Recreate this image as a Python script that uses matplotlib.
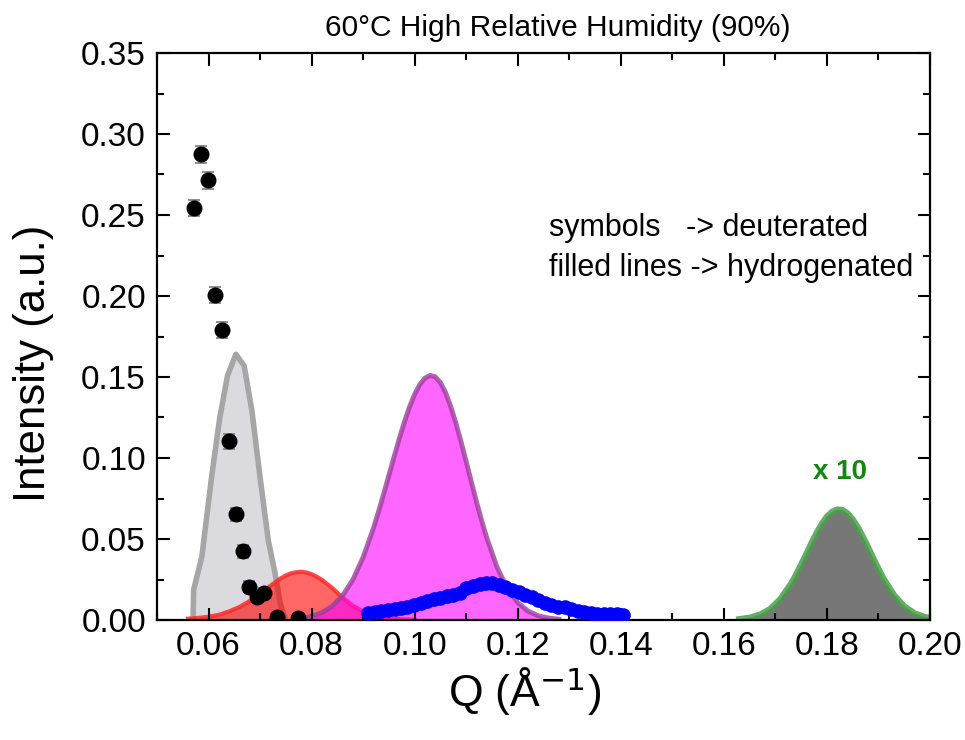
import matplotlib
matplotlib.use("Agg")
import matplotlib.pyplot as plt
from matplotlib.ticker import MultipleLocator

plt.rcParams['font.family'] = ['Liberation Sans', 'DejaVu Sans']
plt.rcParams['mathtext.fontset'] = 'custom'
plt.rcParams['mathtext.rm'] = 'Liberation Sans'
plt.rcParams['mathtext.it'] = 'Liberation Sans:italic'
plt.rcParams['mathtext.bf'] = 'Liberation Sans:bold'

# ---------------- data ----------------
title = "60°C High Relative Humidity (90%)"
xlabel = r"Q (Å$^{\mathsf{-1}}$)"
ylabel = "Intensity (a.u.)"
note_lines = ["symbols   -> deuterated", "filled lines -> hydrogenated"]
scale_label = "x 10"

# deuterated, symbols with error bars
d1_q = [0.0571, 0.0585, 0.0598, 0.0612, 0.0626, 0.0639, 0.0653, 0.0666,
        0.0679, 0.0694, 0.0707, 0.0733, 0.0774]
d1_i = [0.2542, 0.2875, 0.2713, 0.2008, 0.1788, 0.1102, 0.0654, 0.0425,
        0.0205, 0.0140, 0.0169, 0.0016, 0.0010]
d1_err = [0.0050, 0.0054, 0.0055, 0.0050, 0.0050, 0.0046, 0.0040, 0.0040,
          0.0034, 0.0030, 0.0030, 0.0020, 0.0020]

d2_q = [0.0910, 0.0923, 0.0935, 0.0948, 0.0961, 0.0974, 0.0986, 0.0999,
        0.1012, 0.1024, 0.1037, 0.1050, 0.1062, 0.1075, 0.1088, 0.1100,
        0.1113, 0.1126, 0.1138, 0.1151, 0.1164, 0.1176, 0.1189, 0.1202,
        0.1215, 0.1227, 0.1240, 0.1253, 0.1265, 0.1278, 0.1291, 0.1303,
        0.1316, 0.1329, 0.1342, 0.1354, 0.1367, 0.1380, 0.1392, 0.1405]
d2_i = [0.0045, 0.0052, 0.0058, 0.0062, 0.0067, 0.0074, 0.0082, 0.0094,
        0.0107, 0.0116, 0.0127, 0.0137, 0.0147, 0.0157, 0.0168, 0.0195,
        0.0210, 0.0220, 0.0228, 0.0229, 0.0218, 0.0205, 0.0186, 0.0171,
        0.0155, 0.0141, 0.0124, 0.0106, 0.0090, 0.0079, 0.0081, 0.0066,
        0.0054, 0.0047, 0.0042, 0.0038, 0.0036, 0.0035, 0.0034, 0.0031]

# hydrogenated, filled lines
h1_q = [0.0570, 0.0571, 0.0587, 0.0606, 0.0622, 0.0637, 0.0653, 0.0669,
        0.0684, 0.0700, 0.0716, 0.0729, 0.0739, 0.0749]
h1_i = [0.0, 0.0185, 0.0390, 0.0884, 0.1253, 0.1510, 0.1640, 0.1570,
        0.1295, 0.0880, 0.0490, 0.0290, 0.0105, 0.0]

h2_q = [0.056, 0.058, 0.060, 0.062, 0.064, 0.066, 0.068, 0.070, 0.072,
        0.074, 0.075, 0.076, 0.077, 0.078, 0.079, 0.080, 0.081, 0.082,
        0.084, 0.086, 0.088, 0.090, 0.092, 0.094, 0.096, 0.098, 0.100]
h2_i = [0.0008, 0.0013, 0.0020, 0.0032, 0.0053, 0.0080, 0.0117, 0.0160,
        0.0211, 0.0257, 0.0275, 0.0288, 0.0295, 0.0298, 0.0293, 0.0283,
        0.0267, 0.0248, 0.0198, 0.0138, 0.0088, 0.0052, 0.0028, 0.0015,
        0.0008, 0.0004, 0.0002]

h3_q = [0.078, 0.080, 0.082, 0.084, 0.086, 0.088, 0.090, 0.092, 0.093,
        0.094, 0.095, 0.096, 0.097, 0.098, 0.099, 0.100, 0.101, 0.102,
        0.103, 0.104, 0.105, 0.106, 0.107, 0.108, 0.109, 0.110, 0.111,
        0.112, 0.113, 0.114, 0.116, 0.118, 0.120, 0.122, 0.124, 0.126,
        0.128]
h3_i = [0.0011, 0.0023, 0.0045, 0.0085, 0.0150, 0.0248, 0.0387, 0.0567,
        0.0670, 0.0780, 0.0893, 0.1007, 0.1118, 0.1222, 0.1316, 0.1394,
        0.1454, 0.1493, 0.1510, 0.1501, 0.1465, 0.1403, 0.1318, 0.1216,
        0.1101, 0.0978, 0.0853, 0.0730, 0.0613, 0.0506, 0.0325, 0.0193,
        0.0107, 0.0055, 0.0026, 0.0012, 0.0005]

h4_q = [0.163, 0.165, 0.167, 0.169, 0.171, 0.173, 0.174, 0.175, 0.176,
        0.177, 0.178, 0.179, 0.180, 0.181, 0.182, 0.183, 0.184, 0.185,
        0.186, 0.187, 0.188, 0.189, 0.190, 0.191, 0.193, 0.195, 0.197,
        0.199, 0.201]
h4_i = [0.0005, 0.0014, 0.0033, 0.0068, 0.0130, 0.0222, 0.0279, 0.0342,
        0.0408, 0.0474, 0.0537, 0.0593, 0.0638, 0.0668, 0.0682, 0.0679,
        0.0658, 0.0621, 0.0572, 0.0512, 0.0448, 0.0381, 0.0316, 0.0255,
        0.0154, 0.0084, 0.0041, 0.0018, 0.0007]

xticks = [0.06, 0.08, 0.10, 0.12, 0.14, 0.16, 0.18, 0.20]
yticks = [0.00, 0.05, 0.10, 0.15, 0.20, 0.25, 0.30, 0.35]

# ---------------- figure ----------------
fig = plt.figure(figsize=(9.65, 7.4), dpi=100)
ax = fig.add_axes([157/965, 120/740, 773/965, 567/740])

# gray peak
ax.fill_between(h1_q, h1_i, 0, facecolor='#dbdadf', edgecolor='none', zorder=1)
ax.plot(h1_q, h1_i, color='#a6a6a6', lw=4, zorder=1.1, solid_joinstyle='round')
# red peak
ax.fill_between(h2_q, h2_i, 0, facecolor='#ff0000', alpha=0.6, edgecolor='none', zorder=1.2)
ax.plot(h2_q, h2_i, color='#ff2a2a', lw=3, alpha=0.85, zorder=1.3, solid_joinstyle='round')
# magenta peak
ax.fill_between(h3_q, h3_i, 0, facecolor='#ff00ff', alpha=0.6, edgecolor='none', zorder=1.4)
ax.plot(h3_q, h3_i, color='#9a3f9a', lw=3.5, alpha=0.8, zorder=1.5, solid_joinstyle='round')
# green-outlined peak (x10)
ax.fill_between(h4_q, h4_i, 0, facecolor='#777777', edgecolor='none', zorder=1.4)
ax.plot(h4_q, h4_i, color='#4a9f4a', lw=4.5, alpha=0.85, zorder=1.5, solid_joinstyle='round')

# deuterated symbols
ax.plot(d2_q, d2_i, 'o', color='#0000ff', ms=9.5, zorder=3)
ax.errorbar(d1_q, d1_i, yerr=d1_err, fmt='o', color='black', ms=10.5,
            ecolor='#7a7a7a', elinewidth=1.2, capsize=4.5, capthick=1.2, zorder=4)

ax.set_xlim(0.05, 0.20)
ax.set_ylim(0.0, 0.35)
ax.set_xticks(xticks)
ax.set_yticks(yticks)
ax.set_xticklabels([f"{v:.2f}" for v in xticks])
ax.set_yticklabels([f"{v:.2f}" for v in yticks])
ax.xaxis.set_minor_locator(MultipleLocator(0.01))
ax.yaxis.set_minor_locator(MultipleLocator(0.025))
ax.tick_params(which='both', direction='in', top=True, right=True, width=1.5)
ax.tick_params(which='major', length=9, labelsize=24, pad=8)
ax.tick_params(which='minor', length=5)
for s in ax.spines.values():
    s.set_linewidth(1.6)

fig.text(558/965, 1 - 28/740, title, ha='center', va='center', fontsize=21.5)
fig.text(525/965, 1 - 692/740, xlabel, ha='center', va='center', fontsize=32)
fig.text(34/965, 1 - 363/740, ylabel, ha='center', va='center', fontsize=31.5, rotation=90)

ax.text(0.1261, 0.2417, note_lines[0], ha='left', va='center', fontsize=22)
ax.text(0.1261, 0.2170, note_lines[1], ha='left', va='center', fontsize=22)
ax.text(0.1825, 0.0915, scale_label, ha='center', va='center', fontsize=20,
        fontweight='bold', color='#118811')

fig.savefig("out.png", dpi=100)
